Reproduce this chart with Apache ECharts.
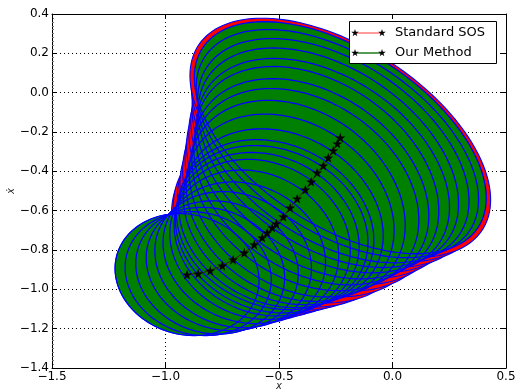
<!DOCTYPE html>
<html><head><meta charset="utf-8">
<script src="https://cdn.jsdelivr.net/npm/echarts@6/dist/echarts.min.js"></script>
<style>html,body{margin:0;padding:0;background:#fff}#c{width:515px;height:391px}</style>
</head><body><div id="c"></div>
<script>
// trajectory (stars)
const trajX = [-0.905, -0.856, -0.803, -0.750, -0.702, -0.653, -0.609, -0.574, -0.552, -0.530, -0.512, -0.481, -0.451, -0.420, -0.384, -0.358, -0.332, -0.305, -0.283, -0.261, -0.243, -0.230];
const trajY = [-0.925, -0.920, -0.905, -0.880, -0.849, -0.814, -0.773, -0.737, -0.712, -0.686, -0.666, -0.631, -0.585, -0.539, -0.493, -0.453, -0.407, -0.371, -0.331, -0.295, -0.259, -0.229];
// funnel ellipses (Our Method): half-extent in x, half-extent in y, correlation
const ellSx = [0.317, 0.322, 0.328, 0.335, 0.345, 0.358, 0.372, 0.388, 0.405, 0.422, 0.430, 0.440, 0.458, 0.476, 0.500, 0.518, 0.536, 0.556, 0.574, 0.598, 0.622, 0.643];
const ellSy = [0.310, 0.315, 0.322, 0.330, 0.346, 0.360, 0.380, 0.398, 0.408, 0.417, 0.427, 0.447, 0.476, 0.500, 0.514, 0.524, 0.540, 0.545, 0.558, 0.570, 0.580, 0.590];
const ellRho = [-0.10, -0.10, -0.11, -0.12, -0.13, -0.14, -0.15, -0.16, -0.17, -0.18, -0.20, -0.215, -0.24, -0.27, -0.30, -0.33, -0.36, -0.39, -0.42, -0.45, -0.49, -0.52];
// Standard SOS ellipses relative size
const sosScale = [1.0, 1.0, 1.0, 1.0, 1.0, 1.01, 1.02, 1.03, 1.04, 1.05, 1.055, 1.06, 1.06, 1.06, 1.06, 1.06, 1.055, 1.05, 1.045, 1.04, 1.035, 1.03];
const xTicks = [-1.5, -1.0, -0.5, 0.0, 0.5];
const yTicks = [-1.4, -1.2, -1.0, -0.8, -0.6, -0.4, -0.2, 0.0, 0.2, 0.4];
const legendNames = ['Standard SOS', 'Our Method'];

const STAR_PTS = [[0,-10],[2.245,-3.09],[9.51,-3.09],[3.633,1.18],[5.88,8.09],[0,3.82],[-5.88,8.09],[-3.633,1.18],[-9.51,-3.09],[-2.245,-3.09]];
const STAR = 'path://M' + STAR_PTS.map(p => p[0] + ',' + p[1]).join('L') + 'Z';
const FONT = 'DejaVu Sans';

function fmt(v) { return (v < 0 ? '\u2212' : '') + Math.abs(v).toFixed(1); }
function starAt(x, y, r) { return STAR_PTS.map(p => [x + p[0] * r / 10, y + p[1] * r / 10]); }

function ellipseRender(fill, stroke, lw) {
  return function (params, api) {
    const cx = api.value(0), cy = api.value(1), sx = api.value(2), sy = api.value(3), r = api.value(4), k = api.value(5);
    const q = Math.sqrt(1 - r * r);
    const pts = [];
    const N = 160;
    for (let j = 0; j < N; j++) {
      const t = j / N * 2 * Math.PI, c = Math.cos(t), s = Math.sin(t);
      pts.push(api.coord([cx + k * sx * c, cy + k * sy * (r * c + q * s)]));
    }
    return { type: 'polygon', shape: { points: pts }, style: { fill: fill, stroke: stroke, lineWidth: lw } };
  };
}

const redData = trajX.map((x, i) => [x, trajY[i], ellSx[i], ellSy[i], ellRho[i], sosScale[i]]);
const greenData = trajX.map((x, i) => [x, trajY[i], ellSx[i], ellSy[i], ellRho[i], 1]);
const lineData = trajX.map((x, i) => [x, trajY[i]]);

const baseX = { type: 'value', min: xTicks[0], max: xTicks[xTicks.length - 1], interval: 0.5 };
const baseY = { type: 'value', min: yTicks[0], max: yTicks[yTicks.length - 1], interval: 0.2 };
const tickStyle = { show: true, inside: true, length: 5, lineStyle: { color: '#000', width: 1 } };

const chart = echarts.init(document.getElementById('c'), null, { renderer: 'canvas' });
chart.setOption({
  animation: false,
  backgroundColor: '#fff',
  grid: { left: 52, right: 9, top: 14, bottom: 23, containLabel: false, outerBoundsMode: 'none' },
  xAxis: [
    Object.assign({}, baseX, {
      position: 'bottom',
      name: 'x', nameLocation: 'middle', nameGap: 13, nameMoveOverlap: false,
      nameTextStyle: { fontFamily: FONT, fontStyle: 'italic', fontSize: 10, color: '#222' },
      axisLine: { show: true, onZero: false, lineStyle: { color: '#000', width: 1 } },
      axisTick: tickStyle,
      axisLabel: { formatter: fmt, fontFamily: FONT, fontSize: 12, color: '#000', margin: 3 },
      splitLine: { show: true, lineStyle: { color: '#000', type: [1, 3], width: 1 } }
    }),
    Object.assign({}, baseX, {
      position: 'top',
      axisLine: { show: true, onZero: false, lineStyle: { color: '#000', width: 1 } },
      axisTick: tickStyle, axisLabel: { show: false }, splitLine: { show: false }
    })
  ],
  yAxis: [
    Object.assign({}, baseY, {
      position: 'left',
      name: '\u1E8B', nameLocation: 'middle', nameGap: 36, nameRotate: 90, nameMoveOverlap: false,
      nameTextStyle: { fontFamily: FONT, fontStyle: 'italic', fontSize: 10, color: '#222' },
      axisLine: { show: true, onZero: false, lineStyle: { color: '#000', width: 1 } },
      axisTick: tickStyle,
      minorTick: { show: true, splitNumber: 10, length: 2, lineStyle: { color: '#777', width: 1 } },
      axisLabel: { formatter: fmt, fontFamily: FONT, fontSize: 12, color: '#000', margin: 3 },
      splitLine: { show: true, lineStyle: { color: '#000', type: [1, 3], width: 1 } }
    }),
    Object.assign({}, baseY, {
      position: 'right',
      axisLine: { show: true, onZero: false, lineStyle: { color: '#000', width: 1 } },
      axisTick: tickStyle, axisLabel: { show: false }, splitLine: { show: false }
    })
  ],
  series: [
    { name: legendNames[0] + ' region', type: 'custom', z: 3, clip: true, silent: true,
      renderItem: ellipseRender('#ff0000', '#0000ff', 1.1), encode: { x: 0, y: 1 }, data: redData },
    { name: legendNames[1] + ' region', type: 'custom', z: 4, clip: true, silent: true,
      renderItem: ellipseRender('#008000', 'none', 0), encode: { x: 0, y: 1 }, data: greenData },
    { name: legendNames[1] + ' edge', type: 'custom', z: 5, clip: true, silent: true,
      renderItem: ellipseRender('none', '#0000ff', 1.3), encode: { x: 0, y: 1 }, data: greenData },
    { name: legendNames[0], type: 'line', z: 6, data: lineData, symbol: STAR, symbolSize: 10,
      lineStyle: { color: '#3a1a0a', width: 1 }, itemStyle: { color: '#000' }, silent: true }
  ],
  graphic: [
    { type: 'rect', z: 100, shape: { x: 349.5, y: 21.5, width: 147, height: 42 }, style: { fill: '#fff', stroke: '#000', lineWidth: 1 } },
    { type: 'line', z: 101, shape: { x1: 355, y1: 33, x2: 382, y2: 33 }, style: { stroke: '#ff7a7a', lineWidth: 1.5 } },
    { type: 'polygon', z: 102, shape: { points: starAt(355, 33, 4) }, style: { fill: '#000' } },
    { type: 'polygon', z: 102, shape: { points: starAt(382, 33, 4) }, style: { fill: '#000' } },
    { type: 'text', z: 102, style: { text: legendNames[0], x: 395, y: 33, textVerticalAlign: 'middle', font: '13px "DejaVu Sans"', fill: '#000' } },
    { type: 'line', z: 101, shape: { x1: 355, y1: 53, x2: 382, y2: 53 }, style: { stroke: '#1f7a1f', lineWidth: 1.5 } },
    { type: 'polygon', z: 102, shape: { points: starAt(355, 53, 4) }, style: { fill: '#000' } },
    { type: 'polygon', z: 102, shape: { points: starAt(382, 53, 4) }, style: { fill: '#000' } },
    { type: 'text', z: 102, style: { text: legendNames[1], x: 395, y: 53, textVerticalAlign: 'middle', font: '13px "DejaVu Sans"', fill: '#000' } }
  ]
});
</script></body></html>
